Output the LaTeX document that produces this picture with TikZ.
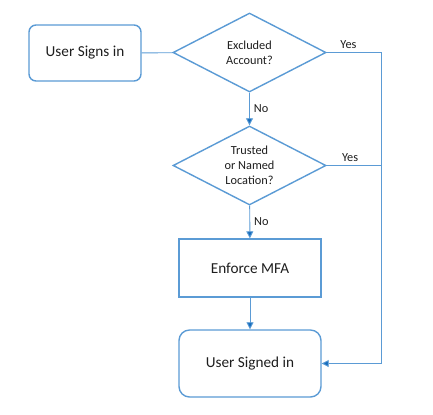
\documentclass[tikz,border=0pt]{standalone}
\usepackage{fontspec}
\setmainfont{Carlito}
\usepackage{xcolor}
\usepackage{tikz}
\usetikzlibrary{shapes.geometric, arrows.meta, positioning, calc}
\definecolor{myblue}{RGB}{91,155,213}
\definecolor{mydarkblue}{RGB}{21,108,188}
\definecolor{mytext}{RGB}{30,30,30}
\tikzset{
  roundbox/.style={rectangle, draw=myblue, fill=white,
    minimum width=3.36cm, minimum height=1.68cm,
    font=\fontsize{13}{15}\selectfont, text=mytext, rounded corners=6pt, line width=1.2pt},
  mfabox/.style={rectangle, draw=myblue, fill=white,
    minimum width=4.26cm, minimum height=1.74cm,
    font=\fontsize{13}{15}\selectfont, text=mytext, line width=1.2pt},
  decision/.style={diamond, draw=myblue, fill=white, aspect=1.94,
    minimum width=4.59cm, minimum height=2.37cm, inner sep=0pt,
    align=center, font=\fontsize{10.5}{13}\selectfont, text=mytext, line width=1.2pt},
  arrow/.style={-{Triangle[length=6pt,width=6pt,fill=mydarkblue]}, draw=myblue, line width=0.8pt},
  line/.style={draw=myblue, line width=0.8pt},
  lbl/.style={font=\fontsize{10.5}{12}\selectfont, text=mytext}
}
\begin{document}
\begin{tikzpicture}[x=0.03cm, y=-0.03cm]
  \useasboundingbox (0,0) rectangle (433,414);
  \node[roundbox] (signs) at (85,53) {User Signs in};
  \node[decision] (excl) at (249.5,52.5) {Excluded\\Account?};
  \node[decision] (trust) at (249.5,165.5) {Trusted\\or Named\\Location?};
  \node[mfabox] (mfa) at (250,268) {Enforce MFA};
  \node[roundbox, minimum width=4.26cm, minimum height=2.01cm, rounded corners=9pt] (signed) at (250,363.5) {User Signed in};
  \coordinate (c1) at (381,52.5);
  \coordinate (c2) at (381,363.5);
  \draw[line] (signs) -- (excl);
  \draw[arrow] (excl) -- node[lbl, right] {No} (trust);
  \draw[arrow] (trust) -- node[lbl, right] {No} (mfa);
  \draw[arrow] (mfa) -- (signed);
  \draw[arrow] (excl.east) -- node[lbl, above, pos=0.4] {Yes} (c1) -- (c2) -- (signed.east);
  \draw[line] (trust.east) -- node[lbl, above, pos=0.43] {Yes} (trust.east -| c1);
\end{tikzpicture}
\end{document}
